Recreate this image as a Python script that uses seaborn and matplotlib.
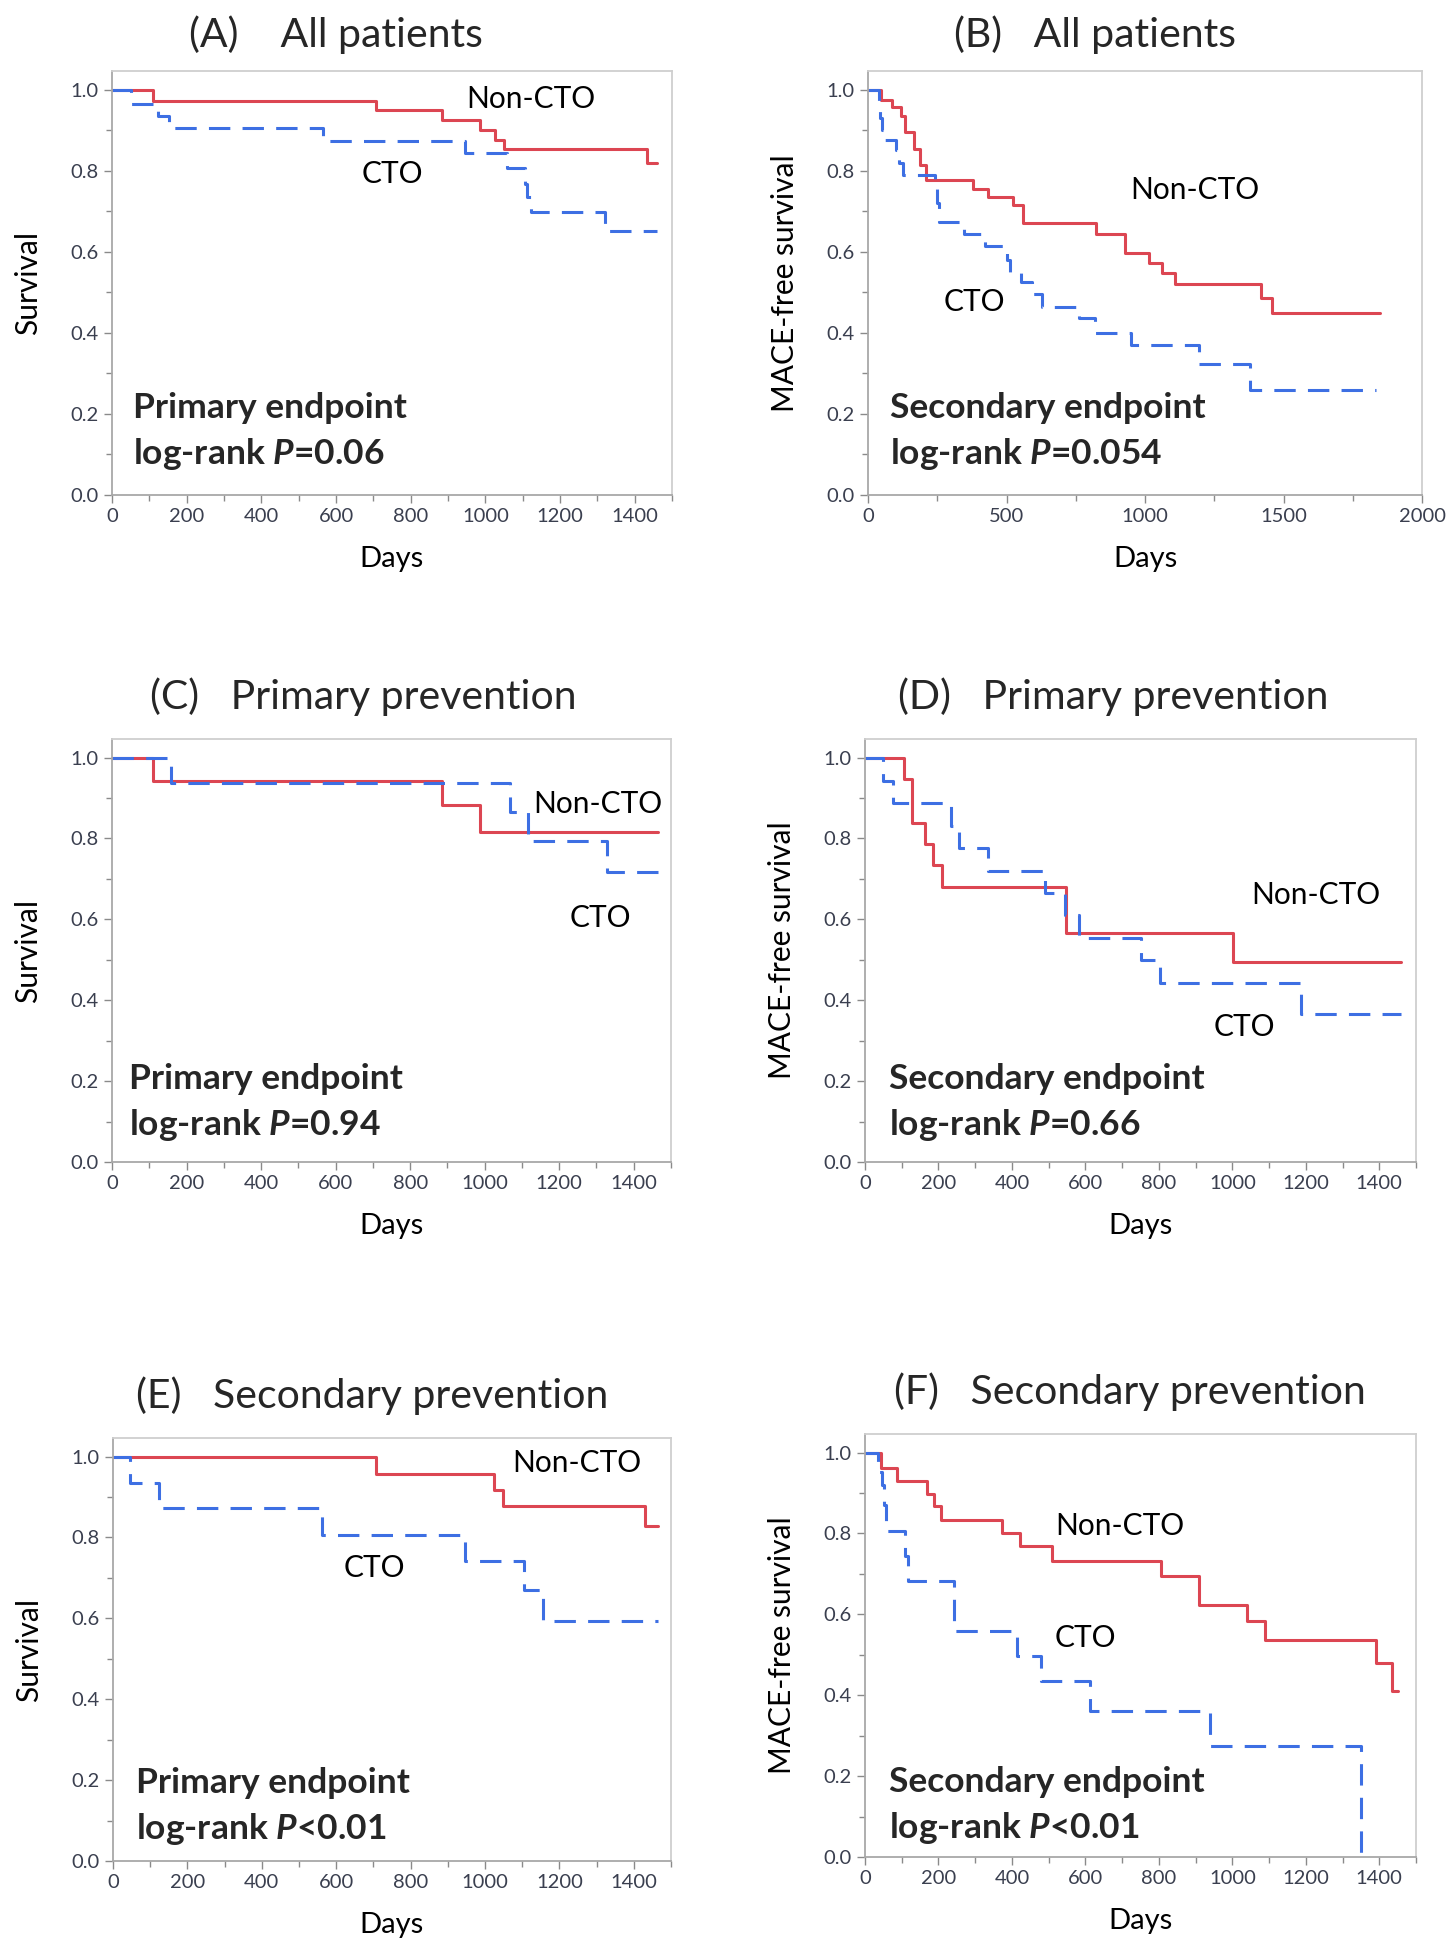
import numpy as np
import pandas as pd
import matplotlib
matplotlib.use("Agg")
import matplotlib.pyplot as plt
import seaborn as sns
from matplotlib.ticker import MultipleLocator, FormatStrFormatter

sns.set_theme(style="white")
plt.rcParams['font.family'] = ['Lato', 'DejaVu Sans']
plt.rcParams['mathtext.fontset'] = 'custom'
plt.rcParams['mathtext.it'] = 'Lato:bold:italic'
plt.rcParams['mathtext.rm'] = 'Lato:bold'

RED = '#dc4652'
BLUE = '#3d6fe3'

# --- Kaplan-Meier step data (days, survival) ---
# (A) All patients, primary endpoint
a_non_days = [0, 111, 706, 883, 985, 1025, 1049, 1432, 1460]
a_non_surv = [1.0, 0.973, 0.950, 0.925, 0.900, 0.877, 0.853, 0.819, 0.819]
a_cto_days = [0, 51, 122, 153, 565, 945, 1057, 1105, 1112, 1123, 1321, 1460]
a_cto_surv = [1.0, 0.964, 0.936, 0.905, 0.874, 0.843, 0.806, 0.768, 0.735, 0.697, 0.652, 0.652]

# (B) All patients, secondary endpoint
b_non_days = [0, 46, 88, 118, 133, 165, 187, 211, 380, 432, 522, 558, 824, 927,
              1014, 1061, 1109, 1417, 1459, 1848]
b_non_surv = [1.0, 0.975, 0.957, 0.934, 0.895, 0.854, 0.815, 0.776, 0.756, 0.735,
              0.715, 0.670, 0.645, 0.598, 0.573, 0.547, 0.520, 0.486, 0.449, 0.449]
b_cto_days = [0, 39, 45, 52, 62, 100, 112, 125, 242, 250, 258, 348, 423, 501, 512,
              552, 592, 628, 761, 821, 948, 1196, 1379, 1835]
b_cto_surv = [1.0, 0.96, 0.93, 0.90, 0.875, 0.85, 0.82, 0.789, 0.76, 0.72, 0.674,
              0.645, 0.615, 0.58, 0.55, 0.526, 0.497, 0.465, 0.436, 0.40, 0.371,
              0.324, 0.26, 0.26]

# (C) Primary prevention, primary endpoint
c_non_days = [0, 109, 885, 987, 1466]
c_non_surv = [1.0, 0.942, 0.883, 0.815, 0.815]
c_cto_days = [0, 157, 1068, 1116, 1328, 1466]
c_cto_surv = [1.0, 0.937, 0.866, 0.795, 0.717, 0.717]

# (D) Primary prevention, secondary endpoint
d_non_days = [0, 106, 128, 164, 184, 210, 546, 1002, 1460]
d_non_surv = [1.0, 0.948, 0.839, 0.787, 0.735, 0.681, 0.567, 0.495, 0.495]
d_cto_days = [0, 49, 75, 234, 255, 336, 491, 545, 583, 750, 803, 1188, 1460]
d_cto_surv = [1.0, 0.942, 0.888, 0.830, 0.777, 0.720, 0.665, 0.610, 0.553, 0.500,
              0.443, 0.366, 0.366]

# (E) Secondary prevention, primary endpoint
e_non_days = [0, 706, 1025, 1049, 1431, 1464]
e_non_surv = [1.0, 0.958, 0.917, 0.877, 0.829, 0.829]
e_cto_days = [0, 47, 123, 562, 947, 1105, 1157, 1464]
e_cto_surv = [1.0, 0.935, 0.872, 0.805, 0.742, 0.669, 0.594, 0.594]

# (F) Secondary prevention, secondary endpoint
f_non_days = [0, 44, 88, 168, 188, 208, 372, 422, 508, 806, 910, 1040, 1089, 1392, 1434, 1452]
f_non_surv = [1.0, 0.963, 0.931, 0.898, 0.867, 0.834, 0.800, 0.768, 0.733, 0.694,
              0.622, 0.584, 0.537, 0.480, 0.411, 0.411]
f_cto_days = [0, 35, 45, 52, 58, 109, 117, 241, 413, 479, 612, 939, 1350]
f_cto_surv = [1.0, 0.953, 0.92, 0.87, 0.807, 0.745, 0.683, 0.560, 0.496, 0.435,
              0.362, 0.274, 0.0]

letters = ['(A)', '(B)', '(C)', '(D)', '(E)', '(F)']
titles = ['All patients', 'All patients', 'Primary prevention', 'Primary prevention',
          'Secondary prevention', 'Secondary prevention']
ylabels = ['Survival', 'MACE-free survival'] * 3
endpoints = ['Primary endpoint', 'Secondary endpoint'] * 3
pvalues = ['=0.06', '=0.054', '=0.94', '=0.66', '<0.01', '<0.01']
curves = [
    (a_non_days, a_non_surv, a_cto_days, a_cto_surv),
    (b_non_days, b_non_surv, b_cto_days, b_cto_surv),
    (c_non_days, c_non_surv, c_cto_days, c_cto_surv),
    (d_non_days, d_non_surv, d_cto_days, d_cto_surv),
    (e_non_days, e_non_surv, e_cto_days, e_cto_surv),
    (f_non_days, f_non_surv, f_cto_days, f_cto_surv),
]

# layout (pixel boxes: left, top, right, bottom) and label placements
W, H = 1448, 1944
boxes = [(112, 71, 672, 495), (868, 71, 1422, 495),
         (112, 739, 671, 1162), (865, 739, 1416, 1162),
         (113, 1438, 671, 1861), (865, 1434, 1416, 1857)]
xmax = [1500, 2000, 1500, 1500, 1500, 1500]
non_pos = [(1121, 0.978), (1181, 0.752), (1304, 0.886), (1226, 0.660), (1247, 0.985), (693, 0.818)]
cto_pos = [(750, 0.791), (385, 0.475), (1310, 0.604), (1032, 0.334), (702, 0.724), (601, 0.542)]
end_pos = [(56, 0.215, 0.101), (80, 0.215, 0.101), (46, 0.206, 0.092),
           (66, 0.206, 0.092), (63, 0.193, 0.080), (66, 0.185, 0.071)]
title_pos = [(0.40, 1.085), (0.41, 1.085), (0.45, 1.10), (0.45, 1.10), (0.465, 1.10), (0.48, 1.10)]
title_gap = ['    ', '   ', '   ', '   ', '   ', '   ']

fig = plt.figure(figsize=(W / 100, H / 100), dpi=100)

for i in range(6):
    l, t, r, b = boxes[i]
    ax = fig.add_axes([l / W, 1 - b / H, (r - l) / W, (b - t) / H])
    nd, ns, cd, cs = curves[i]
    df_non = pd.DataFrame({'Days': nd, 'Survival': ns})
    df_cto = pd.DataFrame({'Days': cd, 'Survival': cs})
    sns.lineplot(data=df_non, x='Days', y='Survival', ax=ax, color=RED, lw=2.2,
                 drawstyle='steps-post', estimator=None, sort=False)
    sns.lineplot(data=df_cto, x='Days', y='Survival', ax=ax, color=BLUE, lw=2.2,
                 linestyle=(0, (7, 4)), drawstyle='steps-post', estimator=None, sort=False)

    ax.set_xlim(0, xmax[i])
    ax.set_ylim(0, 1.046)
    if xmax[i] == 2000:
        ax.xaxis.set_major_locator(MultipleLocator(500))
        ax.xaxis.set_minor_locator(MultipleLocator(250))
    else:
        ax.set_xticks(np.arange(0, 1401, 200))
        ax.xaxis.set_minor_locator(MultipleLocator(100))
    ax.yaxis.set_major_locator(MultipleLocator(0.2))
    ax.yaxis.set_minor_locator(MultipleLocator(0.1))
    ax.yaxis.set_major_formatter(FormatStrFormatter('%.1f'))

    ax.tick_params(which='major', direction='out', length=6, width=1, color='#8a8a8a',
                   labelsize=14.5, labelcolor='#3a3f4f', left=True, bottom=True)
    ax.tick_params(which='minor', direction='out', length=4, width=1, color='#8a8a8a',
                   left=True, bottom=True)
    for side, sp in ax.spines.items():
        sp.set_visible(True)
        sp.set_linewidth(1.3)
        sp.set_color('#a8a8a8' if side in ('left', 'bottom') else '#cfcfcf')

    ax.set_xlabel('Days', fontsize=21, color='black')
    ax.set_ylabel(ylabels[i], fontsize=21.5, color='black')
    ax.xaxis.set_label_coords(0.5, -0.12)
    ax.yaxis.set_label_coords(-0.125, 0.5)

    ax.text(*non_pos[i], 'Non-CTO', fontsize=21.5, ha='center', va='center', color='black')
    ax.text(*cto_pos[i], 'CTO', fontsize=21.5, ha='center', va='center', color='black')
    ex, ey1, ey2 = end_pos[i]
    ax.text(ex, ey1, endpoints[i], fontsize=25.5, fontweight='bold', ha='left', va='center')
    ax.text(ex, ey2, 'log-rank $P$' + pvalues[i], fontsize=25.5, fontweight='bold',
            ha='left', va='center')
    tx, ty = title_pos[i]
    ax.text(tx, ty, letters[i] + title_gap[i] + titles[i], transform=ax.transAxes,
            fontsize=29.5, ha='center', va='center')

fig.savefig('out.png', dpi=100, facecolor='white')
